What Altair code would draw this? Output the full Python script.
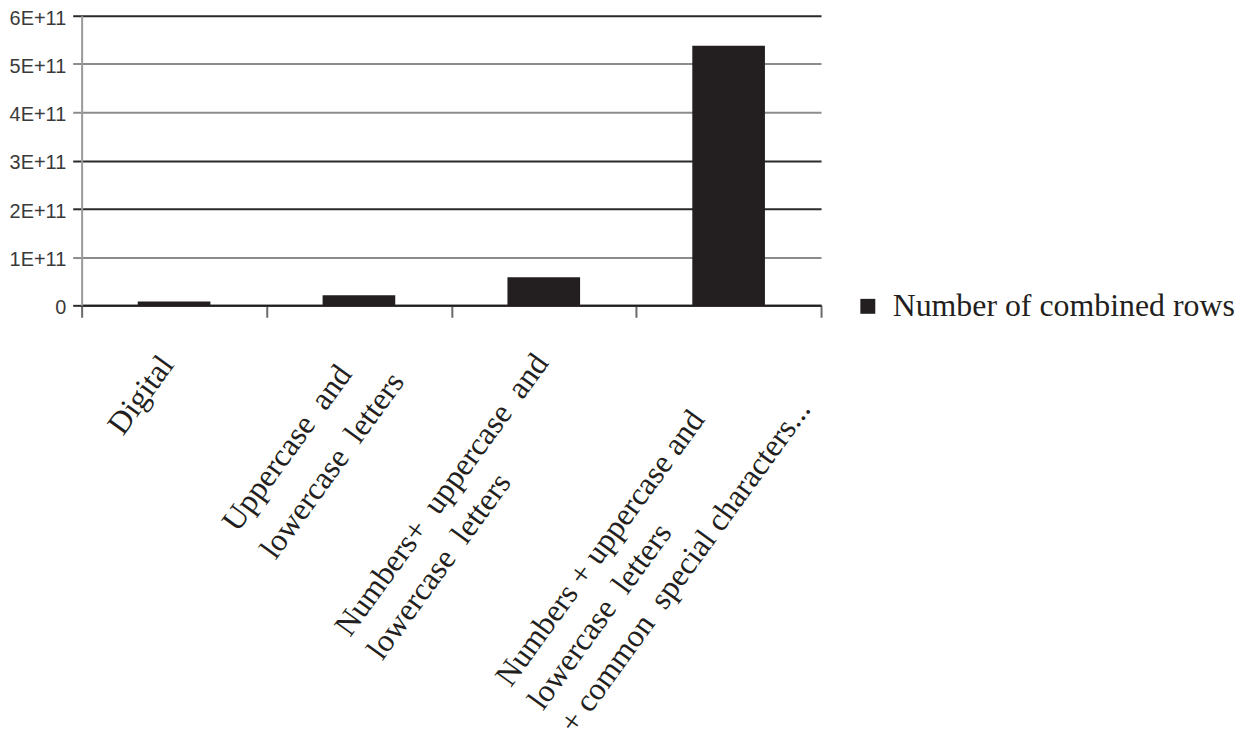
import altair as alt
import pandas as pd

# ---- data ----
categories = [
    "Digital",
    "Uppercase and lowercase letters",
    "Numbers+ uppercase and lowercase letters",
    "Numbers + uppercase and lowercase letters + common special characters...",
]
# wide word gaps as printed in the reference are written as double spaces
label_lines = [
    ["Digital"],
    ["Uppercase  and", "lowercase  letters"],
    ["Numbers+  uppercase  and", "lowercase  letters"],
    ["Numbers + uppercase and", "lowercase  letters", "+ common  special characters..."],
]
values = [8e9, 2.1e10, 5.8e10, 5.38e11]
series_name = "Number of combined rows"
y_ticks = [0, 1e11, 2e11, 3e11, 4e11, 5e11, 6e11]

df = pd.DataFrame({
    "category": categories,
    "value": values,
    "series": [series_name] * len(categories),
    # keep double spaces from collapsing in SVG
    "label": ["|".join(s.replace("  ", "\u00a0 ") for s in l) for l in label_lines],
})

# ---- layout / style ----
W, H = 743, 291
INK = "#231f20"
LABEL_ANGLE = 306
label_layout = [  # (dx along text, dy across text, line height) in rotated frame
    (-137, 36, 40),
    (-257, 36, 47),
    (-385, 39, 40),
    (-440, 49, 40),
]

light_test = "datum.value == 100000000000 || datum.value == 400000000000 || datum.value == 500000000000"
grid_color = {"condition": {"test": light_test, "value": "#8c8c8c"}, "value": "#2a2a2a"}

x_scale = alt.Scale(paddingInner=0, paddingOuter=0, round=False)

x_enc = alt.X(
    "category:N",
    sort=categories,
    scale=x_scale,
    axis=alt.Axis(
        labels=False, title=None, grid=False, tickBand="extent",
        tickSize=12, tickWidth=2, tickColor="#6a6a6a",
        domainColor=INK, domainWidth=2,
    ),
)

y_enc = alt.Y(
    "value:Q",
    scale=alt.Scale(domain=[0, 6e11], nice=False),
    axis=alt.Axis(
        values=y_ticks, title=None,
        labelExpr="datum.value == 0 ? '0' : format(datum.value / 1e11, 'd') + 'E+11'",
        labelFont="Liberation Sans", labelFontSize=20, labelColor="#3a3a3a",
        labelPadding=7, labelOffset=2.5, tickSize=9, tickWidth=2, tickColor=grid_color,
        grid=True, gridColor=grid_color, gridWidth=2,
        domainColor="#9a9a9a", domainWidth=2,
    ),
)

bars = alt.Chart(df).mark_bar(width=73).encode(
    x=x_enc,
    y=y_enc,
    color=alt.Color(
        "series:N",
        scale=alt.Scale(range=[INK]),
        legend=alt.Legend(
            title=None, orient="none", legendX=774, legendY=276,
            symbolType="square", symbolSize=225, symbolStrokeWidth=0,
            labelFont="Liberation Serif", labelFontSize=32, labelColor=INK,
            labelOffset=9, labelLimit=0, padding=0,
        ),
    ),
)

texts = []
for cat, (dx, dy, lh) in zip(categories, label_layout):
    t = (
        alt.Chart(df)
        .transform_filter(alt.datum.category == cat)
        .transform_calculate(lines="split(datum.label, '|')")
        .mark_text(
            angle=LABEL_ANGLE, align="left", baseline="alphabetic",
            dx=dx, dy=dy, lineHeight=lh,
            font="Liberation Serif", fontSize=32, color=INK,
        )
        .encode(x=alt.X("category:N", sort=categories, scale=x_scale), y=alt.value(H), text="lines:N")
    )
    texts.append(t)

chart = (
    alt.layer(bars, *texts)
    .properties(
        width=W, height=H,
        autosize=alt.AutoSizeParams(type="none"),
        padding={"left": 74, "top": 6, "right": 421, "bottom": 432},
        background="white",
    )
    .configure_view(stroke=None)
)

chart.save("out.html", embed_options={"renderer": "svg", "actions": False})
